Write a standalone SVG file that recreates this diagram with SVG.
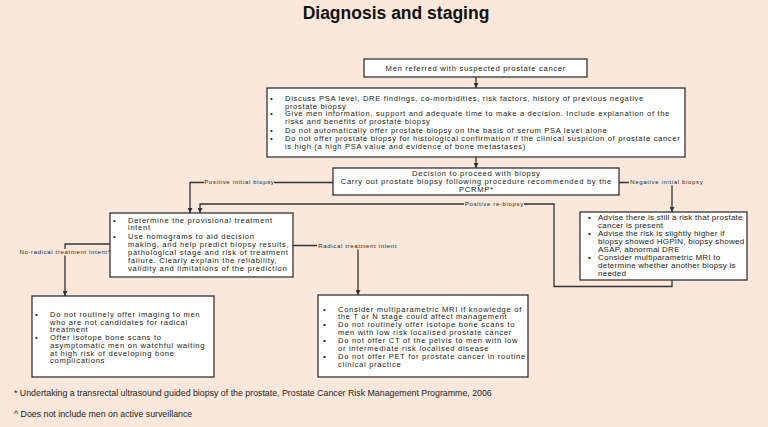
<svg xmlns="http://www.w3.org/2000/svg" width="768" height="427" viewBox="0 0 768 427">
<defs>
<style>
.bg{fill:#fce8da}
.box{fill:#ffffff;stroke:#333333;stroke-width:1.3}
.t{font-family:"Liberation Sans",Arial,sans-serif;font-size:7.6px;letter-spacing:0.7px;fill:#222222}
.t2{letter-spacing:0.66px}
.t5{font-family:"Liberation Sans",Arial,sans-serif;font-size:8px;letter-spacing:0.25px;fill:#222222}
.c{text-anchor:middle}
.lbl{font-family:"Liberation Sans",Arial,sans-serif;font-size:6px;letter-spacing:0.65px;fill:#222222;text-anchor:middle}
.lb{fill:#fce8da}
.ln{fill:none;stroke:#333333;stroke-width:1.3}
.fn{font-family:"Liberation Sans",Arial,sans-serif;font-size:8.8px;fill:#222222}
.title{font-family:"Liberation Sans",Arial,sans-serif;font-size:17.5px;font-weight:bold;fill:#111111;text-anchor:middle}
</style>
<marker id="ar" viewBox="0 0 10 10" refX="10" refY="5" markerWidth="5" markerHeight="5" orient="auto" markerUnits="userSpaceOnUse">
<path d="M0,0 L10,5 L0,10 z" fill="#333333"/>
</marker>
</defs>
<rect class="bg" x="0" y="0" width="768" height="427"/>
<text class="title" x="396" y="18.5">Diagnosis and staging</text>

<g id="connectors">
<path class="ln" d="M476,77 V88" marker-end="url(#ar)"/>
<path class="ln" d="M476,157 V168" marker-end="url(#ar)"/>
<path class="ln" d="M333,182.5 H190 V213" marker-end="url(#ar)"/>
<path class="ln" d="M619,182.5 H672 V212" marker-end="url(#ar)"/>
<path class="ln" d="M672,280 V286.5 H554 V204 H200 V213" marker-end="url(#ar)"/>
<path class="ln" d="M110,244 H65 V296" marker-end="url(#ar)"/>
<path class="ln" d="M293,245.5 H358 V295" marker-end="url(#ar)"/>
<rect class="lb" x="204" y="179" width="70" height="6.5"/>
<text class="lbl" x="239.3" y="184.2">Positive initial biopsy</text>
<rect class="lb" x="629" y="179" width="75" height="6.5"/>
<text class="lbl" x="666.8" y="184.2">Negative initial biopsy</text>
<rect class="lb" x="464" y="200.5" width="60" height="6.5"/>
<text class="lbl" x="494.3" y="205.7">Positive re-biopsy</text>
<rect class="lb" x="19" y="249" width="92" height="6.5"/>
<text class="lbl" x="65.3" y="254.2">No-radical treatment intent^</text>
<rect class="lb" x="317" y="243" width="81" height="6.5"/>
<text class="lbl" x="357.8" y="248.2">Radical treatment intent</text>
</g>

<g id="n1">
<rect class="box" x="364" y="59" width="223" height="18"/>
<text class="t c" x="475.8" y="70.6">Men referred with suspected prostate cancer</text>
</g>

<g id="n2">
<rect class="box" x="267" y="88" width="418" height="69"/>
<text class="t" x="270" y="101">•</text>
<text class="t t2" x="285" y="101">Discuss PSA level, DRE findings, co-morbidities, risk factors, history of previous negative</text>
<text class="t t2" x="285" y="108.7">prostate biopsy</text>
<text class="t" x="270" y="116.2">•</text>
<text class="t t2" x="285" y="116.2">Give men information, support and adequate time to make a decision. Include explanation of the</text>
<text class="t t2" x="285" y="123.7">risks and benefits of prostate biopsy</text>
<text class="t" x="270" y="132.7">•</text>
<text class="t t2" x="285" y="132.7">Do not automatically offer prostate biopsy on the basis of serum PSA level alone</text>
<text class="t" x="270" y="140.8">•</text>
<text class="t t2" x="285" y="140.8">Do not offer prostate biopsy for histological confirmation if the clinical suspicion of prostate cancer</text>
<text class="t t2" x="285" y="148.5">is high (a high PSA value and evidence of bone metastases)</text>
</g>

<g id="n3">
<rect class="box" x="333" y="168" width="286" height="27"/>
<text class="t c" x="476.3" y="176.3">Decision to proceed with biopsy</text>
<text class="t c" x="476.3" y="184.2">Carry out prostate biopsy following procedure recommended by the</text>
<text class="t c" x="476.3" y="192.3">PCRMP*</text>
</g>

<g id="n4">
<rect class="box" x="110" y="213" width="183" height="64"/>
<text class="t" x="113" y="222.7">•</text>
<text class="t" x="128" y="222.7">Determine the provisional treatment</text>
<text class="t" x="128" y="230.4">intent</text>
<text class="t" x="113" y="239.2">•</text>
<text class="t" x="128" y="239.2">Use nomograms to aid decision</text>
<text class="t" x="128" y="247.2">making, and help predict biopsy results,</text>
<text class="t" x="128" y="255.2">pathological stage and risk of treatment</text>
<text class="t" x="128" y="263.2">failure. Clearly explain the reliability,</text>
<text class="t" x="128" y="271.2">validity and limitations of the prediction</text>
</g>

<g id="n5">
<rect class="box" x="580" y="212" width="167" height="68"/>
<text class="t5" x="588" y="219.8">•</text>
<text class="t5" x="598" y="219.8">Advise there is still a risk that prostate</text>
<text class="t5" x="598" y="227.8">cancer is present</text>
<text class="t5" x="588" y="235.8">•</text>
<text class="t5" x="598" y="235.8">Advise the risk is slightly higher if</text>
<text class="t5" x="598" y="243.8">biopsy showed HGPIN, biopsy showed</text>
<text class="t5" x="598" y="251.8">ASAP, abnormal DRE</text>
<text class="t5" x="588" y="259.8">•</text>
<text class="t5" x="598" y="259.8">Consider multiparametric MRI to</text>
<text class="t5" x="598" y="267.8">determine whether another biopsy is</text>
<text class="t5" x="598" y="275.8">needed</text>
</g>

<g id="n6">
<rect class="box" x="32" y="296" width="182" height="81"/>
<text class="t" x="35" y="316.7">•</text>
<text class="t" x="50" y="316.7">Do not routinely offer imaging to men</text>
<text class="t" x="50" y="324.5">who are not candidates for radical</text>
<text class="t" x="50" y="332.1">treatment</text>
<text class="t" x="35" y="340.1">•</text>
<text class="t" x="50" y="340.1">Offer isotope bone scans to</text>
<text class="t" x="50" y="347.7">asymptomatic men on watchful waiting</text>
<text class="t" x="50" y="355.5">at high risk of developing bone</text>
<text class="t" x="50" y="363.3">complications</text>
</g>

<g id="n7">
<rect class="box" x="318" y="295" width="210" height="82"/>
<text class="t" x="323" y="311.7">•</text>
<text class="t" x="338" y="311.7">Consider multiparametric MRI if knowledge of</text>
<text class="t" x="338" y="319.2">the T or N stage could affect management</text>
<text class="t" x="323" y="326.7">•</text>
<text class="t" x="338" y="326.7">Do not routinely offer isotope bone scans to</text>
<text class="t" x="338" y="334.7">men with low risk localised prostate cancer</text>
<text class="t" x="323" y="343.2">•</text>
<text class="t" x="338" y="343.2">Do not offer CT of the pelvis to men with low</text>
<text class="t" x="338" y="350.7">or intermediate risk localised disease</text>
<text class="t" x="323" y="359.2">•</text>
<text class="t" x="338" y="359.2">Do not offer PET for prostate cancer in routine</text>
<text class="t" x="338" y="367.2">clinical practice</text>
</g>

<text class="fn" x="14" y="396.3">* Undertaking a transrectal ultrasound guided biopsy of the prostate, Prostate Cancer Risk Management Programme, 2006</text>
<text class="fn" x="14" y="416.8">^ Does not include men on active surveillance</text>
</svg>
